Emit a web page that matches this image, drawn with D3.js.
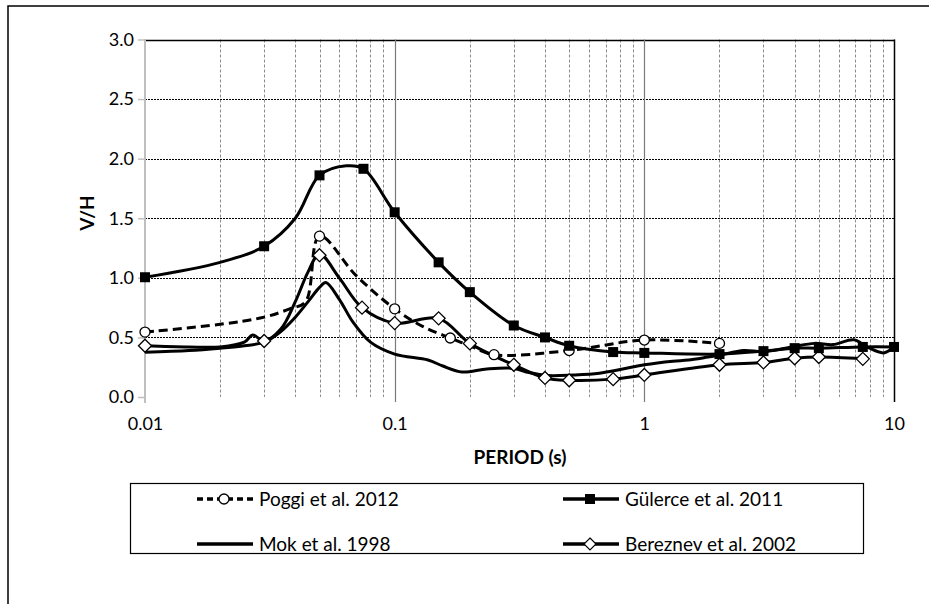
<!DOCTYPE html>
<html><head><meta charset="utf-8">
<script src="https://cdn.jsdelivr.net/npm/d3@7"></script>
<style>body{margin:0;background:#fff}svg{display:block}text{font-family:Lato,"Open Sans",sans-serif}</style>
</head><body>
<svg id="c" width="929" height="604"></svg>
<script>
// ---- data ----
const xTicks = [0.01, 0.1, 1, 10];
const xTickLabels = ["0.01", "0.1", "1", "10"];
const yTicks = [0, 0.5, 1, 1.5, 2, 2.5, 3];
const yTickLabels = ["0.0", "0.5", "1.0", "1.5", "2.0", "2.5", "3.0"];
const seriesNames = ["Poggi et al. 2012", "Gülerce et al. 2011", "Mok et al. 1998", "Bereznev et al. 2002"];

const poggiLine = [[0.01,0.545],[0.02,0.61],[0.03,0.67],[0.038,0.74],[0.044,0.8],[0.05,1.35],[0.07,1.02],[0.1,0.74],[0.13,0.59],[0.167,0.495],[0.2,0.43],[0.25,0.355],[0.5,0.39],[1,0.478],[2,0.45]];
const poggiMarks = [[0.01,0.545],[0.05,1.35],[0.1,0.74],[0.167,0.495],[0.25,0.355],[0.5,0.39],[1,0.478],[2,0.45]];

const gulerceLine = [[0.01,1.005],[0.02,1.13],[0.03,1.265],[0.04,1.5],[0.05,1.86],[0.064,1.94],[0.075,1.915],[0.1,1.55],[0.15,1.13],[0.2,0.88],[0.3,0.6],[0.4,0.5],[0.5,0.43],[0.75,0.377],[1,0.37],[2,0.36],[3,0.385],[4,0.41],[5,0.41],[7.5,0.42],[10,0.42]];
const gulerceMarks = gulerceLine.filter(d => d[0] !== 0.02 && d[0] !== 0.04 && d[0] !== 0.064);

const mokLine = [[0.01,0.375],[0.015,0.39],[0.02,0.41],[0.025,0.43],[0.03,0.46],[0.035,0.55],[0.04,0.67],[0.045,0.8],[0.05,0.92],[0.053,0.96],[0.06,0.82],[0.068,0.63],[0.08,0.46],[0.1,0.36],[0.136,0.31],[0.156,0.26],[0.186,0.21],[0.234,0.235],[0.3,0.24],[0.345,0.205],[0.41,0.18],[0.52,0.185],[0.66,0.2],[0.82,0.235],[1,0.27],[1.3,0.3],[1.5,0.31],[1.8,0.335],[2,0.35],[2.5,0.39],[3,0.38],[3.9,0.42],[4.8,0.45],[5.7,0.44],[6.9,0.48],[7.8,0.42],[9.1,0.37],[10,0.42]];

const bereznevLine = [[0.01,0.43],[0.015,0.42],[0.02,0.42],[0.025,0.46],[0.027,0.52],[0.03,0.47],[0.035,0.57],[0.04,0.8],[0.045,1.05],[0.05,1.2],[0.06,1.0],[0.074,0.75],[0.1,0.62],[0.15,0.66],[0.2,0.45],[0.3,0.27],[0.4,0.16],[0.5,0.14],[0.75,0.15],[1,0.185],[2,0.27],[3,0.29],[4,0.325],[5,0.335],[7.5,0.32]];
const bereznevMarks = [[0.01,0.43],[0.03,0.47],[0.05,1.19],[0.074,0.75],[0.1,0.62],[0.15,0.66],[0.2,0.45],[0.3,0.27],[0.4,0.16],[0.5,0.14],[0.75,0.15],[1,0.185],[2,0.27],[3,0.29],[4,0.325],[5,0.335],[7.5,0.32]];

// ---- chart ----
const svg = d3.select("#c");
const x = d3.scaleLog().domain([0.01, 10]).range([145, 894]);
const y = d3.scaleLinear().domain([0, 3]).range([397, 39.5]);

// outer frame
svg.append("rect").attr("x", 8).attr("y", 6).attr("width", 940).attr("height", 620)
  .attr("fill", "none").attr("stroke", "#000").attr("stroke-width", 1.5);

// minor vertical grid
const minor = [];
[0.01, 0.1, 1].forEach(dec => { for (let k = 2; k <= 9; k++) minor.push(dec * k); });
svg.append("g").selectAll("line").data(minor).join("line")
  .attr("x1", d => Math.round(x(d)) + 0.5).attr("x2", d => Math.round(x(d)) + 0.5)
  .attr("y1", y(3)).attr("y2", y(0))
  .attr("stroke", "#8c8c8c").attr("stroke-width", 1).attr("stroke-dasharray", "3,2");

// horizontal grid
svg.append("g").selectAll("line").data(yTicks.filter(v => v > 0 && v < 3)).join("line")
  .attr("x1", x(0.01)).attr("x2", x(10))
  .attr("y1", d => Math.round(y(d)) + 0.5).attr("y2", d => Math.round(y(d)) + 0.5)
  .attr("stroke", "#000").attr("stroke-width", 1).attr("stroke-dasharray", "2,1");
svg.append("line").attr("x1", x(0.01)).attr("x2", x(10) + 1)
  .attr("y1", Math.round(y(3)) + 0.5).attr("y2", Math.round(y(3)) + 0.5)
  .attr("stroke", "#000").attr("stroke-width", 1.5);

// major vertical grid
svg.append("g").selectAll("line").data([0.1, 1]).join("line")
  .attr("x1", d => Math.round(x(d)) + 0.5).attr("x2", d => Math.round(x(d)) + 0.5)
  .attr("y1", y(3)).attr("y2", y(0) + 5)
  .attr("stroke", "#7a7a7a").attr("stroke-width", 1.2);
svg.append("line").attr("x1", x(10) + 0.5).attr("x2", x(10) + 0.5)
  .attr("y1", y(3)).attr("y2", y(0) + 5).attr("stroke", "#000").attr("stroke-width", 1.5);

// y axis
const yAxis = d3.axisLeft(y).tickValues(yTicks).tickFormat((d, i) => yTickLabels[i]).tickSize(7).tickPadding(4);
const ya = svg.append("g").attr("transform", `translate(${x(0.01)},0)`).call(yAxis);
ya.select(".domain").attr("stroke", "#bfbfbf").attr("stroke-width", 2).attr("d", `M0,${y(3)}V${y(0) + 6}`);
ya.selectAll(".tick line").attr("stroke", "#bfbfbf").attr("stroke-width", 1.5);
ya.selectAll(".tick text").attr("font-size", 18).attr("fill", "#000").attr("font-family", "Lato");

// x axis labels
const xAxis = d3.axisBottom(x).tickValues(xTicks).tickFormat((d, i) => xTickLabels[i]).tickSize(0).tickPadding(20);
const xa = svg.append("g").attr("transform", `translate(0,${y(0)})`).call(xAxis);
xa.select(".domain").remove();
xa.selectAll(".tick text").attr("font-size", 18).attr("fill", "#000").attr("font-family", "Lato");

// axis titles
svg.append("text").attr("x", 520).attr("y", 464).attr("text-anchor", "middle")
  .attr("font-size", 19).attr("font-weight", "bold").text("PERIOD (s)");
svg.append("text").attr("transform", "translate(94,213) rotate(-90)").attr("text-anchor", "middle")
  .attr("font-size", 19).attr("font-weight", "bold").text("V/H");

// series
const line = d3.line().x(d => x(d[0])).y(d => y(d[1])).curve(d3.curveCatmullRom.alpha(0.5));
const g = svg.append("g");
g.append("path").attr("d", line(mokLine)).attr("fill", "none").attr("stroke", "#000").attr("stroke-width", 3);
g.append("path").attr("d", line(bereznevLine)).attr("fill", "none").attr("stroke", "#000").attr("stroke-width", 3);
g.append("path").attr("d", line(poggiLine)).attr("fill", "none").attr("stroke", "#000").attr("stroke-width", 3).attr("stroke-dasharray", "9,5");
g.append("path").attr("d", line(gulerceLine)).attr("fill", "none").attr("stroke", "#000").attr("stroke-width", 3);

const diamond = (cx, cy, r) => `M${cx},${cy - r}L${cx + r},${cy}L${cx},${cy + r}L${cx - r},${cy}Z`;
g.append("g").selectAll("path").data(bereznevMarks).join("path")
  .attr("d", d => diamond(x(d[0]), y(d[1]), 6.5)).attr("fill", "#fff").attr("stroke", "#000").attr("stroke-width", 1.3);
g.append("g").selectAll("circle").data(poggiMarks).join("circle")
  .attr("cx", d => x(d[0])).attr("cy", d => y(d[1])).attr("r", 5).attr("fill", "#fff").attr("stroke", "#000").attr("stroke-width", 1.3);
g.append("g").selectAll("rect").data(gulerceMarks).join("rect")
  .attr("x", d => x(d[0]) - 5).attr("y", d => y(d[1]) - 5).attr("width", 10).attr("height", 10).attr("fill", "#000");

// legend
const lg = svg.append("g");
lg.append("rect").attr("x", 130.5).attr("y", 483.5).attr("width", 733).attr("height", 70)
  .attr("fill", "#fff").attr("stroke", "#000").attr("stroke-width", 1.2);
const items = [
  {name: seriesNames[0], lx: 197, ly: 499, type: "poggi"},
  {name: seriesNames[1], lx: 563, ly: 499, type: "gulerce"},
  {name: seriesNames[2], lx: 197, ly: 544, type: "mok"},
  {name: seriesNames[3], lx: 563, ly: 544, type: "bereznev"}
];
items.forEach(it => {
  const ln = lg.append("line").attr("x1", it.lx).attr("x2", it.lx + 56).attr("y1", it.ly).attr("y2", it.ly)
    .attr("stroke", "#000").attr("stroke-width", 3.5);
  const cx = it.lx + 27;
  if (it.type === "poggi") {
    ln.attr("stroke-dasharray", "6,4");
    lg.append("circle").attr("cx", cx).attr("cy", it.ly).attr("r", 5).attr("fill", "#fff").attr("stroke", "#000").attr("stroke-width", 1.3);
  } else if (it.type === "gulerce") {
    lg.append("rect").attr("x", cx - 5).attr("y", it.ly - 5).attr("width", 10).attr("height", 10).attr("fill", "#000");
  } else if (it.type === "bereznev") {
    lg.append("path").attr("d", diamond(cx, it.ly, 6)).attr("fill", "#fff").attr("stroke", "#000").attr("stroke-width", 1.2);
  }
  lg.append("text").attr("x", it.lx + 62).attr("y", it.ly + 7).attr("font-size", 19).text(it.name);
});
</script>
</body></html>
